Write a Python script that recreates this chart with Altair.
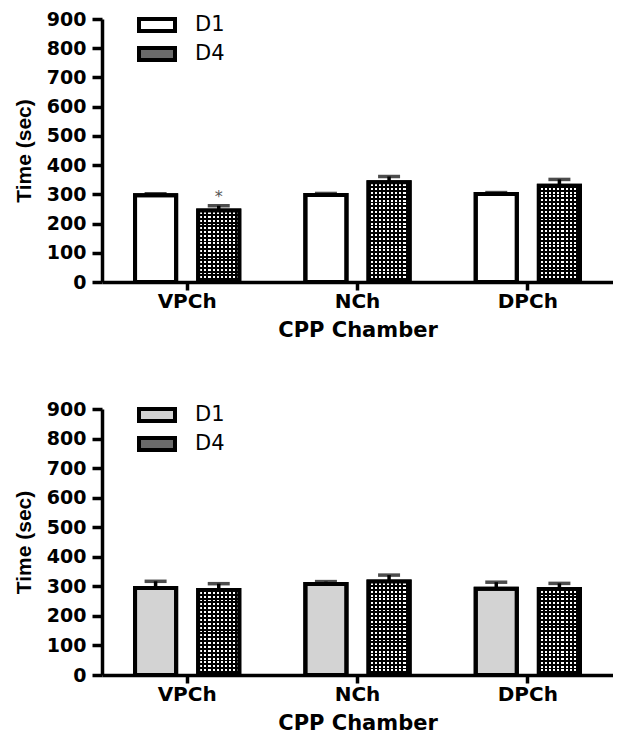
import altair as alt
import pandas as pd

categories = ["VPCh", "NCh", "DPCh"]
groups = ["D1", "D4"]

top_d1 = [297, 298, 301]
top_d1_err = [5, 5, 5]
top_d4 = [245, 341, 329]
top_d4_err = [16, 20, 22]
top_stars = ["", "", ""]
top_stars_d4 = ["*", "", ""]

bottom_d1 = [294, 308, 292]
bottom_d1_err = [23, 8, 22]
bottom_d4 = [288, 316, 291]
bottom_d4_err = [21, 22, 19]
bottom_stars = ["", "", ""]
bottom_stars_d4 = ["", "", ""]

y_ticks = list(range(0, 1000, 100))

BOLD = "DejaVu Sans"
STROKE = 4


def make_df(d1, d1e, d4, d4e, s1, s4):
    rows = []
    for i, c in enumerate(categories):
        rows.append(dict(category=c, group="D1", mean=d1[i], err=d1e[i],
                         top=d1[i] + d1e[i], star=s1[i]))
        rows.append(dict(category=c, group="D4", mean=d4[i], err=d4e[i],
                         top=d4[i] + d4e[i], star=s4[i]))
    return pd.DataFrame(rows)


def stripes(n, direction, c1, c2, frac):
    stops = []
    for i in range(n):
        a = i / n
        b = (i + frac) / n
        e = (i + 1) / n
        stops += [alt.GradientStop(offset=a, color=c1),
                  alt.GradientStop(offset=b, color=c1),
                  alt.GradientStop(offset=b, color=c2),
                  alt.GradientStop(offset=e, color=c2)]
    if direction == "x":
        return alt.LinearGradient(gradient="linear", stops=stops, x1=0, x2=1, y1=0, y2=0)
    return alt.LinearGradient(gradient="linear", stops=stops, x1=0, x2=0, y1=0, y2=1)


def make_panel(df, d1_color, height, width=511):
    xscale = alt.Scale(domain=categories, paddingInner=0.388, paddingOuter=0.194)
    xaxis = alt.Axis(labelAngle=0, labelFont=BOLD, labelFontWeight="bold",
                     labelFontSize=20, labelColor="black", labelPadding=1,
                     tickSize=8, titleFont=BOLD, titleFontWeight="bold",
                     titleFontSize=21, titleColor="black", titlePadding=8,
                     domainWidth=3.5, domainColor="black", tickWidth=3.5,
                     tickColor="black", grid=False)
    yscale = alt.Scale(domain=[0, 900], nice=False)
    yaxis = alt.Axis(values=y_ticks, labelFont=BOLD, labelFontWeight="bold",
                     labelFontSize=19, labelColor="black", labelPadding=6,
                     tickSize=10, titleFont="Liberation Sans", titleFontWeight="bold",
                     titleFontSize=21, titleColor="black", titlePadding=12,
                     domainWidth=3.5, domainColor="black", tickWidth=3.5,
                     tickColor="black", grid=False, title="Time (sec)")
    xoff = alt.XOffset("group:N", scale=alt.Scale(domain=groups, paddingInner=0.349, paddingOuter=0))
    x = alt.X("category:N", sort=categories, scale=xscale, axis=xaxis, title="CPP Chamber")

    base = alt.Chart(df).encode(x=x, xOffset=xoff)

    err_rule = base.mark_rule(color="black", strokeWidth=3.5).encode(
        y=alt.Y("mean:Q", scale=yscale, axis=yaxis), y2="top:Q")
    caps = base.mark_tick(color="black", thickness=3.5, size=22, orient="horizontal").encode(
        y=alt.Y("top:Q", scale=yscale, axis=yaxis))
    bars = base.mark_bar(stroke="black", strokeWidth=STROKE).encode(
        y=alt.Y("mean:Q", scale=yscale, axis=yaxis),
        color=alt.Color("group:N", scale=alt.Scale(domain=groups, range=[d1_color, "#6a6a6a"]),
                        legend=alt.Legend(title=None, orient="none", legendX=41, legendY=-8,
                                          symbolType="M-1.5,-0.5H1.5V0.5H-1.5Z",
                                          symbolSize=576, symbolStrokeColor="black",
                                          symbolStrokeWidth=STROKE, symbolOpacity=1,
                                          labelFont="DejaVu Sans", labelFontSize=21,
                                          labelColor="black", labelOffset=24,
                                          rowPadding=1, padding=0)))
    d4 = df[df.group == "D4"]
    layers = [err_rule, caps, bars]
    vert = base.mark_bar(fill=stripes(10, "x", "black", "white", 0.5)).encode(
        y=alt.Y("mean:Q", scale=yscale, axis=yaxis)).transform_filter(alt.datum.group == "D4")
    layers.append(vert)
    for _, r in d4.iterrows():
        hpx = r["mean"] * height / 900.0
        n = max(1, int(round(hpx / 3.8)))
        horiz = base.mark_bar(fill=stripes(n, "y", "black", "rgba(0,0,0,0)", 0.5)).encode(
            y=alt.Y("mean:Q", scale=yscale, axis=yaxis)).transform_filter(
            (alt.datum.group == "D4") & (alt.datum.category == r["category"]))
        layers.append(horiz)
    outline = base.mark_bar(fill="transparent", stroke="black", strokeWidth=STROKE).encode(
        y=alt.Y("mean:Q", scale=yscale, axis=yaxis))
    layers.append(outline)
    star = base.mark_text(font="DejaVu Sans", fontSize=16, color="#555555", baseline="bottom", dy=-1).encode(
        y=alt.Y("top:Q", scale=yscale, axis=yaxis), text="star:N")
    layers.append(star)
    return alt.layer(*layers).properties(width=width, height=height)


top = make_panel(make_df(top_d1, top_d1_err, top_d4, top_d4_err, top_stars, top_stars_d4),
                 "white", 263)
bottom = make_panel(make_df(bottom_d1, bottom_d1_err, bottom_d4, bottom_d4_err, bottom_stars, bottom_stars_d4),
                    "#d3d3d3", 266)

chart = alt.vconcat(top, bottom, spacing=60).resolve_scale(color="independent").properties(
    padding={"left": 5, "top": 2, "right": 0, "bottom": 0}, background="white"
).configure_view(strokeWidth=0, stroke="transparent")

chart.save("out.html", embed_options={"renderer": "svg", "actions": False})
